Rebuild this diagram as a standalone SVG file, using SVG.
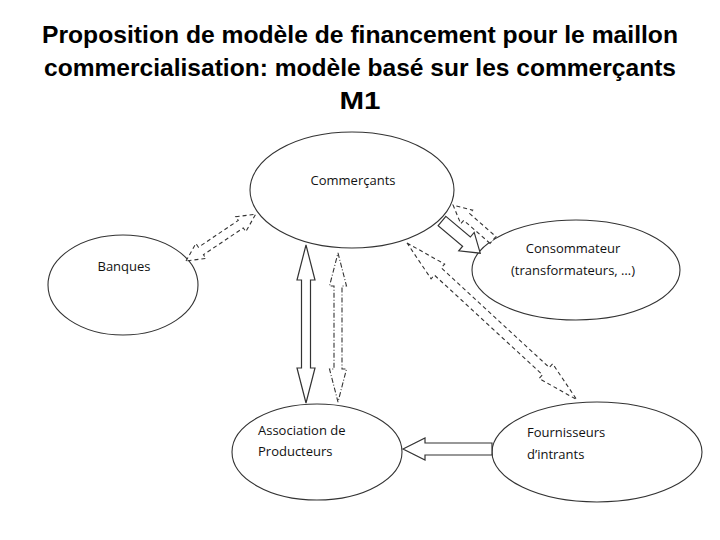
<svg xmlns="http://www.w3.org/2000/svg" width="720" height="540" viewBox="0 0 720 540">
<style>
.title{font-family:"Liberation Sans",Arial,sans-serif;font-weight:bold;font-size:24px;fill:#000;text-anchor:middle}
.lbl{font-family:"Open Sans","Liberation Sans",sans-serif;font-size:13px;fill:#111}
.node{fill:#fff;stroke:#333;stroke-width:1.1}
.solid{fill:#fff;stroke:#333;stroke-width:1.2}
.dash{fill:#fff;stroke:#333;stroke-width:1.1;stroke-dasharray:4 3}
.dashdot{fill:#fff;stroke:#333;stroke-width:1.1;stroke-dasharray:5 2 1 2}
</style>
<rect width="720" height="540" fill="#fff"/>
<g id="title">
<text class="title" x="360" y="43" textLength="636" lengthAdjust="spacingAndGlyphs">Proposition de modèle de financement pour le maillon</text>
<text class="title" x="360" y="76" textLength="632" lengthAdjust="spacingAndGlyphs">commercialisation: modèle basé sur les commerçants</text>
<text class="title" x="360" y="109" textLength="41" lengthAdjust="spacingAndGlyphs">M1</text>
</g>
<g id="commercants">
<ellipse class="node" cx="352" cy="190" rx="102" ry="58"/>
<text class="lbl" x="353" y="185" text-anchor="middle">Commerçants</text>
</g>
<g id="banques">
<ellipse class="node" cx="123" cy="285" rx="75" ry="50"/>
<text class="lbl" x="124" y="271" text-anchor="middle">Banques</text>
</g>
<g id="consommateur">
<ellipse class="node" cx="576" cy="270" rx="104" ry="50"/>
<text class="lbl" x="573" y="253" text-anchor="middle">Consommateur</text>
<text class="lbl" x="573" y="275" text-anchor="middle">(transformateurs, …)</text>
</g>
<g id="association">
<ellipse class="node" cx="317" cy="452" rx="85" ry="48"/>
<text class="lbl" x="258" y="435">Association de</text>
<text class="lbl" x="258" y="456">Producteurs</text>
</g>
<g id="fournisseurs">
<ellipse class="node" cx="597" cy="452" rx="105" ry="50"/>
<text class="lbl" x="527" y="437">Fournisseurs</text>
<text class="lbl" x="527" y="459">d’intrants</text>
</g>
<g id="connectors">
<polygon class="dash" transform="translate(186,261) rotate(-33.9)" points="0,0 18,-9 18,-4.5 66,-4.5 66,-9 84,0 66,9 66,4.5 18,4.5 18,9"/>
<polygon class="solid" transform="translate(442,221) rotate(40.1)" points="0,-6 32,-6 32,-12 50,0 32,12 32,6 0,6"/>
<polygon class="dash" transform="translate(493,240) rotate(221.2)" points="0,-4.5 35,-4.5 35,-9 53,0 35,9 35,4.5 0,4.5"/>
<polygon class="dash" transform="translate(407,243) rotate(42.7)" points="0,0 42,-10 42,-5 189,-5 189,-10 231,0 189,10 189,5 42,5 42,10"/>
<polygon class="solid" points="306,245 315,280 310.5,280 310.5,368 315,368 306,403 297,368 301.5,368 301.5,280 297,280"/>
<polygon class="dashdot" points="338,253 346.5,286 342,286 342,369 346.5,369 338,402 329.5,369 334,369 334,286 329.5,286"/>
<polygon class="solid" points="403,449 425,438 425,443 492,443 492,455 425,455 425,460"/>
</g>
</svg>
